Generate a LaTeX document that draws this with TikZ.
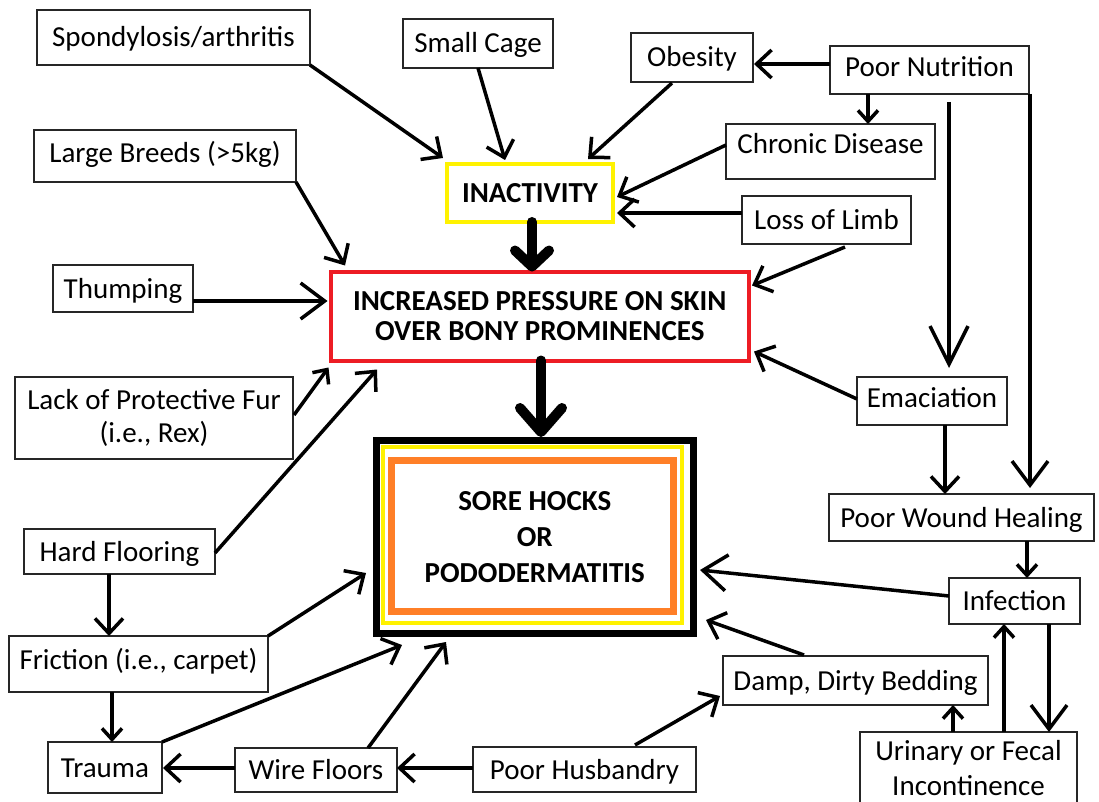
\documentclass[tikz,border=0pt]{standalone}
\usepackage{fontspec}
\setmainfont{Carlito}
\usetikzlibrary{arrows.meta}
\definecolor{pred}{RGB}{237,28,36}
\definecolor{pyel}{RGB}{255,242,0}
\definecolor{pora}{RGB}{255,127,39}
\tikzset{
  box/.style={draw=black!85, line width=1.6pt, outer sep=0pt, inner sep=0pt,
    font=\fontsize{29}{33}\selectfont, text height=19pt, text depth=0pt},
  mbox/.style={draw=black!85, line width=1.6pt, outer sep=0pt, inner sep=0pt, align=center},
  con/.style={line width=3.5pt, -{Straight Barb[length=15pt,width=28pt]}},
  conS/.style={line width=3.5pt, -{Straight Barb[length=11pt,width=20pt]}},
  conB/.style={line width=3.5pt, -{Straight Barb[length=24pt,width=36pt]}},
  conX/.style={line width=3.5pt, -{Straight Barb[length=38pt,width=38pt]}},
  fat/.style={line width=10pt, line cap=round, -{Straight Barb[length=16pt,width=34pt,round]}},
  fatB/.style={line width=10pt, line cap=round, -{Straight Barb[length=24pt,width=42pt,round]}},
}
\begin{document}
\begin{tikzpicture}[x=1pt,y=-1pt]
\useasboundingbox (0,0) rectangle (1099,802);
\fill[white] (0,0) rectangle (1099,802);
\clip (0,0) rectangle (1099,802);

% ---- boxes
\node[box, minimum width=273pt, minimum height=55pt] (spond) at (173.5,37.5) {Spondylosis/arthritis};
\node[box, minimum width=150pt, minimum height=49pt] (cage) at (478,43.5) {Small Cage};
\node[box, minimum width=122pt, minimum height=49pt] (obes) at (692,57.5) {Obesity};
\node[box, minimum width=199pt, minimum height=48pt, text depth=6pt] (pnut) at (929.5,70) {Poor Nutrition};
\node[box, minimum width=209pt, minimum height=55pt, text depth=14pt] (chron) at (830.5,151.5) {Chronic Disease};
\node[box, minimum width=169pt, minimum height=48pt] (limb) at (826.5,220) {Loss of Limb};
\node[box, minimum width=262pt, minimum height=52pt, text depth=6pt] (large) at (165,156) {Large Breeds (>5kg)};
\node[box, minimum width=140pt, minimum height=47pt] (thump) at (123,288.5) {Thumping};
\node[box, minimum width=150pt, minimum height=48pt, text depth=6pt] (ema) at (932,401) {Emaciation};
\node[box, minimum width=265pt, minimum height=47pt] (pwh) at (961.5,517.5) {Poor Wound Healing};
\node[mbox, minimum width=278pt, minimum height=82pt, font=\fontsize{29}{33}\selectfont] (lack) at (154,418) {Lack of Protective Fur\\(i.e., Rex)};
\node[box, minimum width=191pt, minimum height=45pt] (hard) at (119.5,551.5) {Hard Flooring};
\node[box, minimum width=259pt, minimum height=56pt, text depth=8pt] (fric) at (138.5,664) {Friction (i.e., carpet)};
\node[box, minimum width=114pt, minimum height=51pt] (trauma) at (105,767.5) {Trauma};
\node[box, minimum width=162pt, minimum height=44pt] (wire) at (316,770) {Wire Floors};
\node[box, minimum width=223pt, minimum height=45pt] (husb) at (584.5,769.5) {Poor Husbandry};
\node[box, minimum width=265pt, minimum height=49pt] (damp) at (855.5,680.5) {Damp, Dirty Bedding};
\node[box, minimum width=131pt, minimum height=46pt] (infec) at (1014.5,601) {Infection};
\node[mbox, minimum width=217pt, minimum height=72pt, font=\fontsize{29}{35}\selectfont] (urin) at (968.5,768) {Urinary or Fecal\\Incontinence};

% ---- central boxes
\node[draw=pyel, line width=4pt, outer sep=0pt, inner sep=0pt, minimum width=166pt, minimum height=58pt,
  font=\fontsize{29}{33}\bfseries, text height=19pt, text depth=0pt] (inact) at (530,193) {INACTIVITY};
\node[draw=pred, line width=4pt, outer sep=0pt, inner sep=0pt, minimum width=418.5pt, minimum height=89pt,
  align=center, font=\fontsize{29}{30}\bfseries] (press) at (539.75,316) {INCREASED PRESSURE ON SKIN\\OVER BONY PROMINENCES};
\node[draw=black, line width=7pt, outer sep=0pt, inner sep=0pt, minimum width=316.5pt, minimum height=193pt,
  align=center, font=\fontsize{29}{36}\bfseries] (sore) at (534.75,537) {SORE HOCKS\\OR\\PODODERMATITIS};
\draw[pyel, line width=4pt] ([shift={(6.5,6.5)}]sore.north west) rectangle ([shift={(-11,-11)}]sore.south east);
\draw[pora, line width=7pt] ([shift={(15,20)}]sore.north west) rectangle ([shift={(-19.5,-22)}]sore.south east);

% ---- connectors
\draw[con] (spond.south east) -- ([shift={(-4,-6)}]inact.north west);
\draw[con] (cage.south) -- ([shift={(-25,-4)}]inact.north);
\draw[con] ([shift={(-20,1)}]obes.south) -- ([shift={(58,-5)}]inact.north);
\draw[con] ([shift={(0,-6)}]pnut.west) -- ([shift={(1,6.5)}]obes.east);
\draw[conS] ([shift={(-61.5,0)}]pnut.south) -- ([shift={(37.5,0)}]chron.north);
\draw[con] ([shift={(0,-6.5)}]chron.west) -- ([shift={(4,4)}]inact.east);
\draw[con] ([shift={(0,-7)}]limb.west) -- ([shift={(4,20)}]inact.east);
\draw[con] ([shift={(18.5,3)}]limb.south) -- ([shift={(3,14)}]press.north east);
\draw[con] (large.south east) -- ([shift={(14.5,-6)}]press.north west);
\draw[fat] ([shift={(2,0)}]inact.south) -- ([shift={(-7.75,0)}]press.north);
\draw[conB] ([shift={(0,12.5)}]thump.east) -- ([shift={(-3,-15)}]press.west);
\draw[conS] ([shift={(1,-3)}]lack.east) -- ([shift={(-2,7)}]press.south west);
\draw[con] ([shift={(0,1.5)}]hard.east) -- ([shift={(46.5,9)}]press.south west);
\draw[con] ([shift={(0,-2)}]ema.west) -- ([shift={(5,-9)}]press.south east);
\draw[conX] ([shift={(19.5,8)}]pnut.south) -- ([shift={(17,-9)}]ema.north);
\draw[conB] ([shift={(1,0)}]pnut.south east) -- ([shift={(68.5,-6)}]pwh.north);
\draw[con] ([shift={(13,0)}]ema.south) -- ([shift={(-16.5,0)}]pwh.north);
\draw[fatB] ([shift={(1.25,0)}]press.south) -- ([shift={(6.25,-3.5)}]sore.north);
\draw[con] (fric.north east) -- ([shift={(-10.5,36)}]sore.west);
\draw[con] (trauma.north east) -- ([shift={(25.5,11.5)}]sore.south west);
\draw[con] ([shift={(52,0)}]wire.north) -- ([shift={(69.5,8.5)}]sore.south west);
\draw[con] ([shift={(0,-2)}]wire.west) -- ([shift={(1,0.5)}]trauma.east);
\draw[con] ([shift={(0,-1.5)}]husb.west) -- ([shift={(0,-2)}]wire.east);
\draw[con] ([shift={(50.5,-2)}]husb.north) -- ([shift={(-3,15.5)}]damp.west);
\draw[con] ([shift={(-51.5,-1)}]damp.north) -- ([shift={(13,-13.5)}]sore.south east);
\draw[conB] ([shift={(0,-5)}]infec.west) -- ([shift={(7,33)}]sore.east);
\draw[conS] ([shift={(65.5,0)}]pwh.south) -- ([shift={(12.5,0)}]infec.north);
\draw[conS] ([shift={(-15.5,0)}]urin.north) -- ([shift={(97.5,0)}]damp.south);
\draw[conS] ([shift={(35.5,0)}]urin.north) -- ([shift={(-10.5,0)}]infec.south);
\draw[conB] ([shift={(34.5,0)}]infec.south) -- ([shift={(80.5,0)}]urin.north);
\draw[con] ([shift={(-10.5,0)}]hard.south) -- ([shift={(-29.5,0)}]fric.north);
\draw[conS] ([shift={(-26.5,0)}]fric.south) -- ([shift={(7,0)}]trauma.north);
\end{tikzpicture}
\end{document}
